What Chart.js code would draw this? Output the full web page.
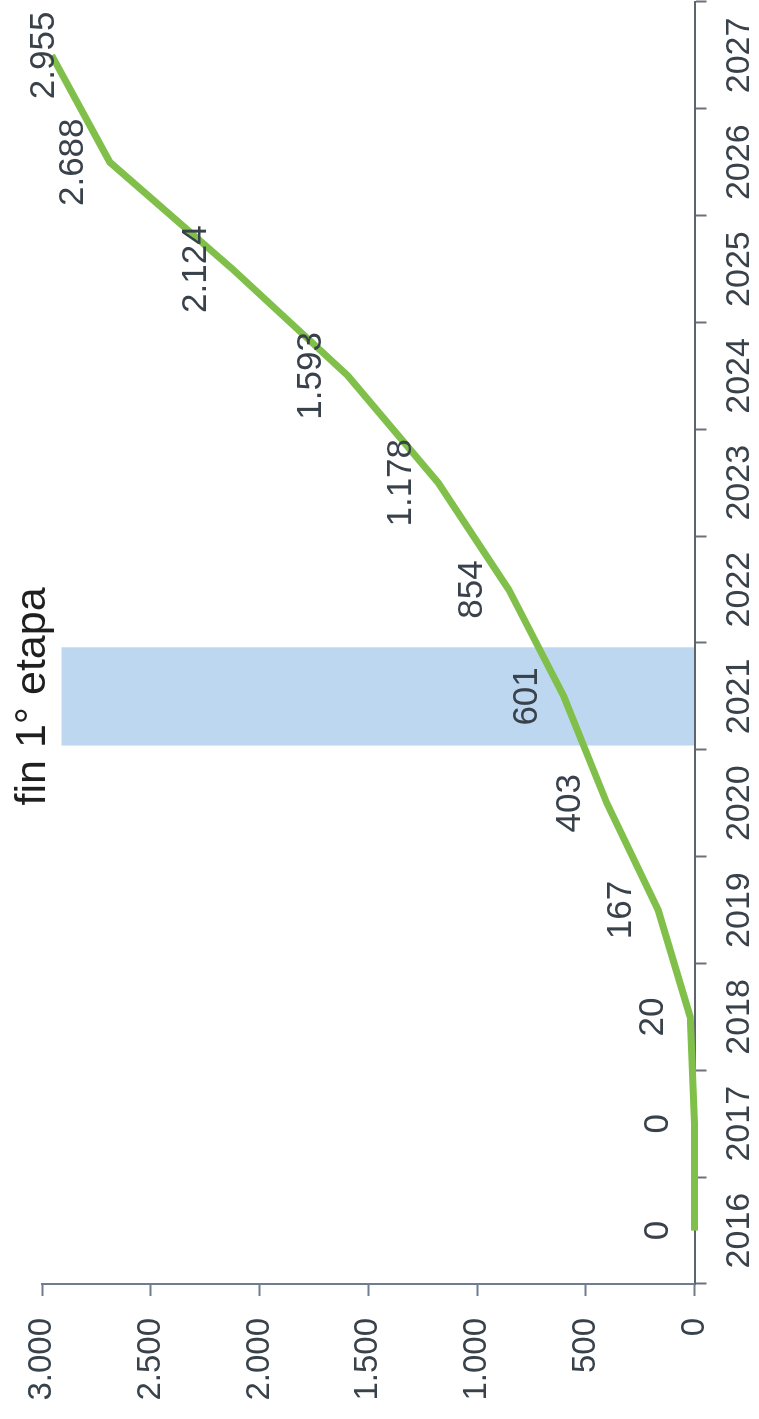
<!DOCTYPE html>
<html>
<head>
<meta charset="utf-8">
<script src="https://cdn.jsdelivr.net/npm/chart.js@4.4.1/dist/chart.umd.min.js"></script>
<style>
html, body { margin: 0; padding: 0; background: #fff; overflow: hidden; }
/* the chart is laid out landscape and turned a quarter turn to stand on its side */
#wrap {
  position: absolute; left: 0; top: 0;
  width: 1419px; height: 759px;
  transform-origin: 0 0;
  transform: translate(0, 1419px) rotate(-90deg);
}
</style>
</head>
<body>
<div id="wrap"><canvas id="grafico" width="1419" height="759"></canvas></div>
<script>
// ================= DATA =================
const anios = ["2016","2017","2018","2019","2020","2021","2022","2023","2024","2025","2026","2027"];
const valores = [0, 0, 20, 167, 403, 601, 854, 1178, 1593, 2124, 2688, 2955];
const finEtapa = [null, null, null, null, null, 2910, null, null, null, null, null, null];
const textoEtapa = "fin 1° etapa";
const ejeMin = 0;
const ejeMax = 3000;
const ejePaso = 500;

// ================= FORMAT =================
function formato(n){
  return String(n).replace(/\B(?=(\d{3})+(?!\d))/g, ".");
}

const FUENTE = "'Liberation Sans', Arial, sans-serif";

// ================= LABELS =================
const etiquetas = {
  id: "etiquetas",
  afterDatasetsDraw(chart){
    const ctx = chart.ctx;
    ctx.save();
    ctx.textAlign = "center";
    ctx.textBaseline = "alphabetic";

    // value above each point, kept inside the top edge
    ctx.font = "35px " + FUENTE;
    ctx.fillStyle = "#39424b";
    chart.getDatasetMeta(0).data.forEach((p, i) => {
      ctx.fillText(formato(valores[i]), p.x, Math.max(p.y - 27, 54));
    });

    const k = finEtapa.findIndex(v => v !== null);
    const barra = chart.getDatasetMeta(1).data[k];
    ctx.font = "43px " + FUENTE;
    ctx.fillStyle = "#1f1f1f";
    ctx.fillText(textoEtapa, barra.x, barra.y - 17);

    ctx.restore();
  }
};

// ================= CHART =================
new Chart(document.getElementById("grafico"), {
  type: "bar",
  data: {
    labels: anios,
    datasets: [
      {
        type: "line",
        label: "total",
        data: valores,
        borderColor: "#80c04a",
        borderWidth: 7,
        pointRadius: 0,
        tension: 0,
        clip: false,
        order: 0
      },
      {
        type: "bar",
        label: textoEtapa,
        data: finEtapa,
        backgroundColor: "#bdd7f1",
        borderWidth: 0,
        barPercentage: 0.92,
        categoryPercentage: 1,
        order: 1
      }
    ]
  },
  options: {
    responsive: false,
    animation: false,
    devicePixelRatio: 1,
    layout: { padding: { top: 42, right: 2, left: 0, bottom: 0 } },
    plugins: { legend: { display: false }, tooltip: { enabled: false } },
    scales: {
      x: {
        offset: true,
        grid: {
          offset: true,
          drawOnChartArea: false,
          tickLength: 12,
          tickWidth: 2,
          color: "#6a717a"
        },
        border: { color: "#5d646c", width: 2 },
        ticks: {
          font: { family: FUENTE, size: 34 },
          color: "#39424b",
          padding: 13,
          maxRotation: 0,
          autoSkip: false
        },
        afterFit(s){ s.height = 64.5; }
      },
      y: {
        min: ejeMin,
        max: ejeMax,
        grid: {
          drawOnChartArea: false,
          tickLength: 12,
          tickWidth: 2,
          color: "#6f7d8f"
        },
        border: { color: "#6f7d8f", width: 2 },
        ticks: {
          stepSize: ejePaso,
          font: { family: FUENTE, size: 33 },
          color: "#39424b",
          padding: 22,
          callback: v => formato(v)
        },
        afterFit(s){ s.width = 135; }
      }
    }
  },
  plugins: [etiquetas]
});
</script>
</body>
</html>
